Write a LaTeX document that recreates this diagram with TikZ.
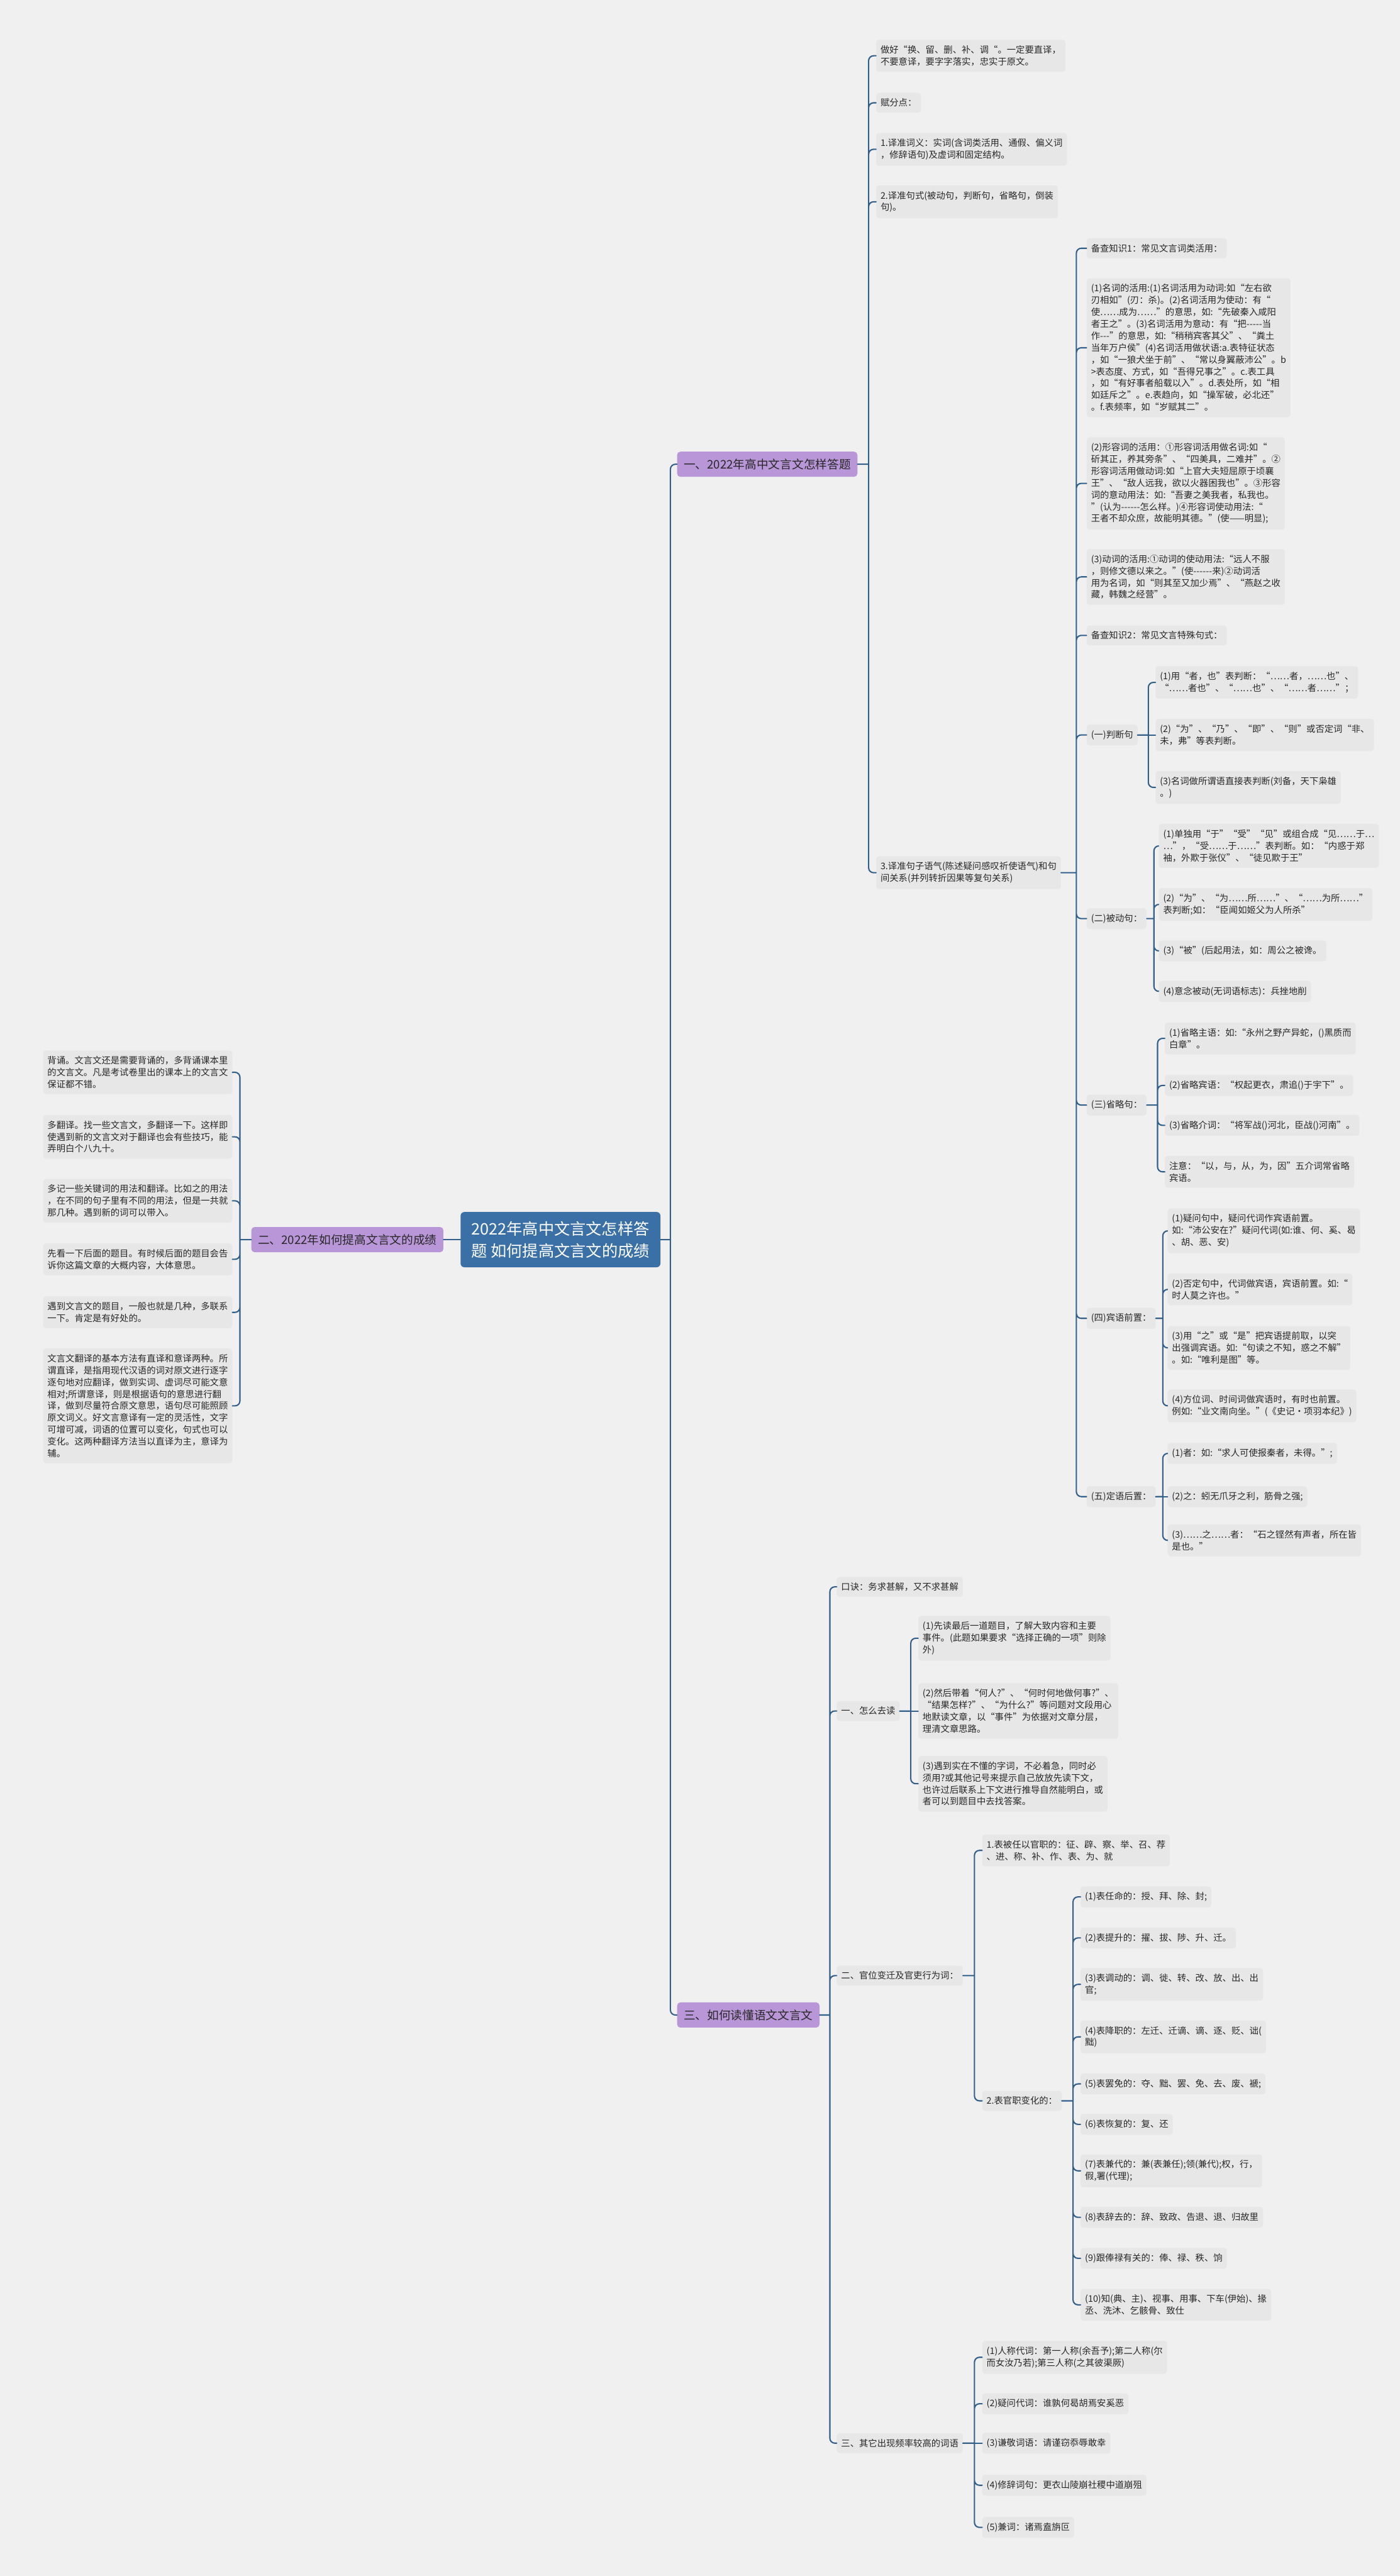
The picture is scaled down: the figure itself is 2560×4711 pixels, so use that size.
\documentclass[tikz,border=0pt]{standalone}
\usepackage{fontspec}
\setmainfont{Noto Sans CJK SC}
\usetikzlibrary{calc}
\definecolor{paper}{RGB}{240,240,240}
\definecolor{box}{RGB}{231,231,231}
\definecolor{wire}{RGB}{50,96,138}
\definecolor{deep}{RGB}{58,112,166}
\definecolor{lilac}{RGB}{184,150,216}
\definecolor{ink}{RGB}{40,40,40}

\begin{document}
\begin{tikzpicture}[x=1pt, y=-1pt,
	leaf/.style={fill=box, text=ink, rounded corners=5pt, anchor=west, align=left, inner xsep=8pt, inner ysep=10.5pt, font=\fontsize{16.5}{21.7}\selectfont},
	leafl/.style={leaf, anchor=east},
	sect/.style={fill=lilac, text=ink, rounded corners=6pt, anchor=west, inner xsep=12pt, inner ysep=13pt, font=\fontsize{21.5}{26}\selectfont},
	main/.style={fill=deep, text=white, rounded corners=7pt, align=left, inner xsep=20pt, inner ysep=17pt, font=\fontsize{29}{40}\selectfont},
	link/.style={draw=wire, line width=2.4pt, line cap=round, rounded corners=9pt,
		to path={(\tikztostart) -- ($(\tikztostart)!0.6!(\tikztostart -| \tikztotarget)$) ($(\tikztostart)!0.6!(\tikztostart -| \tikztotarget)$) |- (\tikztotarget)}},
	flat/.style={draw=wire, line width=2.4pt, line cap=round}]
	
	\fill[paper] (0,0) rectangle (2560,4711);
	\useasboundingbox (0,0) rectangle (2560,4711);
	
	\path
	(1025,2267) node[main] (R) {2022年高中文言文怎样答\\题 如何提高文言文的成绩}
	(1238,849) node[sect] (S1) {一、2022年高中文言文怎样答题}
	(811,2267) node[sect, anchor=east] (S2) {二、2022年如何提高文言文的成绩}
	(1238,3685) node[sect] (S3) {三、如何读懂语文文言文}
	;
	
	\path
	(1602,102) node[leaf] (A1) {做好“换、留、删、补、调“。一定要直译，\\不要意译，要字字落实，忠实于原文。}
	(1602,188) node[leaf] (A2) {赋分点：}
	(1602,273) node[leaf] (A3) {1.译准词义：实词(含词类活用、通假、偏义词\\，修辞语句)及虚词和固定结构。}
	(1602,369) node[leaf] (A4) {2.译准句式(被动句，判断句，省略句，倒装\\句)。}
	(1602,1596) node[leaf] (A5) {3.译准句子语气(陈述疑问感叹祈使语气)和句\\间关系(并列转折因果等复句关系)}
	;
	
	\path
	(1987,454) node[leaf] (B1) {备查知识1：常见文言词类活用：}
	(1987,636) node[leaf] (B2) {(1)名词的活用:(1)名词活用为动词:如“左右欲\\刃相如”(刃：杀)。(2)名词活用为使动：有“\\使……成为……”的意思，如:“先破秦入咸阳\\者王之”。(3)名词活用为意动：有“把-{}-{}-{}-{}-当\\作-{}-{}-”的意思，如:“稍稍宾客其父”、“粪土\\当年万户侯”(4)名词活用做状语:a.表特征状态\\，如“一狼犬坐于前”、“常以身翼蔽沛公”。b\\>表态度、方式，如“吾得兄事之”。c.表工具\\，如“有好事者船载以入”。d.表处所，如“相\\如廷斥之”。e.表趋向，如“操军破，必北还”\\。f.表频率，如“岁赋其二”。}
	(1987,884) node[leaf] (B3) {(2)形容词的活用：①形容词活用做名词:如“\\斫其正，养其旁条”、“四美具，二难并”。②\\形容词活用做动词:如“上官大夫短屈原于顷襄\\王”、“敌人远我，欲以火器困我也”。③形容\\词的意动用法：如:“吾妻之美我者，私我也。\\”(认为-{}-{}-{}-{}-{}-怎么样。)④形容词使动用法:“\\王者不却众庶，故能明其德。”(使——明显);}
	(1987,1055) node[leaf] (B4) {(3)动词的活用:①动词的使动用法:“远人不服\\，则修文德以来之。”(使-{}-{}-{}-{}-{}-来)②动词活\\用为名词，如“则其至又加少焉”、“燕赵之收\\藏，韩魏之经营”。}
	(1987,1162) node[leaf] (B5) {备查知识2：常见文言特殊句式：}
	(1987,1344) node[leaf] (B6) {(一)判断句}
	(1987,1680) node[leaf] (B7) {(二)被动句：}
	(1987,2021) node[leaf] (B8) {(三)省略句：}
	(1987,2411) node[leaf] (B9) {(四)宾语前置：}
	(1987,2737) node[leaf] (B10) {(五)定语后置：}
	;
	
	\path
	(2113,1248) node[leaf] (C1) {(1)用“者，也”表判断：“……者，……也”、\\“……者也”、“……也”、“……者……”；}
	(2113,1344) node[leaf] (C2) {(2)“为”、“乃”、“即”、“则”或否定词“非、\\未，弗”等表判断。}
	(2113,1440) node[leaf] (C3) {(3)名词做所谓语直接表判断(刘备，天下枭雄\\。)}
	(2119,1547) node[leaf] (D1) {(1)单独用“于”“受”“见”或组合成“见……于…\\…”，“受……于……”表判断。如：“内惑于郑\\袖，外欺于张仪”、“徒见欺于王”}
	(2119,1654) node[leaf] (D2) {(2)“为”、“为……所……”、“……为所……”\\表判断;如：“臣闻如姬父为人所杀”}
	(2119,1739) node[leaf] (D3) {(3)“被”(后起用法，如：周公之被谗。}
	(2119,1813) node[leaf] (D4) {(4)意念被动(无词语标志)：兵挫地削}
	(2130,1899) node[leaf] (E1) {(1)省略主语：如:“永州之野产异蛇，()黑质而\\白章”。}
	(2130,1985) node[leaf] (E2) {(2)省略宾语：“权起更衣，肃追()于宇下”。}
	(2130,2058) node[leaf] (E3) {(3)省略介词：“将军战()河北，臣战()河南”。}
	(2130,2143) node[leaf] (E4) {注意：“以，与，从，为，因”五介词常省略\\宾语。}
	(2135,2251) node[leaf] (F1) {(1)疑问句中，疑问代词作宾语前置。\\如:“沛公安在?”疑问代词(如:谁、何、奚、曷\\、胡、恶、安)}
	(2135,2358) node[leaf] (F2) {(2)否定句中，代词做宾语，宾语前置。如:“\\时人莫之许也。”}
	(2135,2465) node[leaf] (F3) {(3)用“之”或“是”把宾语提前取，以突\\出强调宾语。如:“句读之不知，惑之不解”\\。如:“唯利是图”等。}
	(2135,2571) node[leaf] (F4) {(4)方位词、时间词做宾语时，有时也前置。\\例如:“业文南向坐。”(《史记·项羽本纪》)}
	(2135,2658) node[leaf] (G1) {(1)者：如:“求人可使报秦者，未得。”;}
	(2135,2737) node[leaf] (G2) {(2)之：蚓无爪牙之利，筋骨之强;}
	(2135,2817) node[leaf] (G3) {(3)……之……者：“石之铿然有声者，所在皆\\是也。”}
	;
	
	\path
	(425,1961) node[leafl] (H1) {背诵。文言文还是需要背诵的，多背诵课本里\\的文言文。凡是考试卷里出的课本上的文言文\\保证都不错。}
	(425,2079) node[leafl] (H2) {多翻译。找一些文言文，多翻译一下。这样即\\使遇到新的文言文对于翻译也会有些技巧，能\\弄明白个八九十。}
	(425,2196) node[leafl] (H3) {多记一些关键词的用法和翻译。比如之的用法\\，在不同的句子里有不同的用法，但是一共就\\那几种。遇到新的词可以带入。}
	(425,2303) node[leafl] (H4) {先看一下后面的题目。有时候后面的题目会告\\诉你这篇文章的大概内容，大体意思。}
	(425,2400) node[leafl] (H5) {遇到文言文的题目，一般也就是几种，多联系\\一下。肯定是有好处的。}
	(425,2571) node[leafl] (H6) {文言文翻译的基本方法有直译和意译两种。所\\谓直译，是指用现代汉语的词对原文进行逐字\\逐句地对应翻译，做到实词、虚词尽可能文意\\相对;所谓意译，则是根据语句的意思进行翻\\译，做到尽量符合原文意思，语句尽可能照顾\\原文词义。好文言意译有一定的灵活性，文字\\可增可减，词语的位置可以变化，句式也可以\\变化。这两种翻译方法当以直译为主，意译为\\辅。}
	;
	
	\path
	(1530,2902) node[leaf] (K1) {口诀：务求甚解，又不求甚解}
	(1530,3129) node[leaf] (K2) {一、怎么去读}
	(1530,3613) node[leaf] (K3) {二、官位变迁及官吏行为词：}
	(1530,4468) node[leaf] (K4) {三、其它出现频率较高的词语}
	(1679,2996) node[leaf] (L1) {(1)先读最后一道题目，了解大致内容和主要\\事件。(此题如果要求“选择正确的一项”则除\\外)}
	(1679,3129) node[leaf] (L2) {(2)然后带着“何人?”、“何时何地做何事?”、\\“结果怎样?”、“为什么?”等问题对文段用心\\地默读文章，以“事件”为依据对文章分层，\\理清文章思路。}
	(1679,3262) node[leaf] (L3) {(3)遇到实在不懂的字词，不必着急，同时必\\须用?或其他记号来提示自己放放先读下文，\\也许过后联系上下文进行推导自然能明白，或\\者可以到题目中去找答案。}
	(1796,3384) node[leaf] (M1) {1.表被任以官职的：征、辟、察、举、召、荐\\、进、称、补、作、表、为、就}
	(1796,3842) node[leaf] (M2) {2.表官职变化的：}
	(1976,3469) node[leaf] (N1) {(1)表任命的：授、拜、除、封;}
	(1976,3544) node[leaf] (N2) {(2)表提升的：擢、拔、陟、升、迁。}
	(1976,3629) node[leaf] (N3) {(3)表调动的：调、徙、转、改、放、出、出\\官;}
	(1976,3725) node[leaf] (N4) {(4)表降职的：左迁、迁谪、谪、逐、贬、诎(\\黜)}
	(1976,3811) node[leaf] (N5) {(5)表罢免的：夺、黜、罢、免、去、废、褫;}
	(1976,3885) node[leaf] (N6) {(6)表恢复的：复、还}
	(1976,3970) node[leaf] (N7) {(7)表兼代的：兼(表兼任);领(兼代);权，行，\\假,署(代理);}
	(1976,4055) node[leaf] (N8) {(8)表辞去的：辞、致政、告退、退、归故里}
	(1976,4130) node[leaf] (N9) {(9)跟俸禄有关的：俸、禄、秩、饷}
	(1976,4215) node[leaf] (N10) {(10)知(典、主)、视事、用事、下车(伊始)、掾\\丞、洗沐、乞骸骨、致仕}
	(1796,4311) node[leaf] (O1) {(1)人称代词：第一人称(余吾予);第二人称(尔\\而女汝乃若);第三人称(之其彼渠厥)}
	(1796,4396) node[leaf] (O2) {(2)疑问代词：谁孰何曷胡焉安奚恶}
	(1796,4468) node[leaf] (O3) {(3)谦敬词语：请谨窃忝辱敢幸}
	(1796,4545) node[leaf] (O4) {(4)修辞词句：更衣山陵崩社稷中道崩殂}
	(1796,4622) node[leaf] (O5) {(5)兼词：诸焉盍旃叵}
	;
	
	\draw[flat] (R.west) -- (S2.east);
	\draw[link] (R.east) to (S1.west) (R.east) to (S3.west);
	
	\draw[link] (S1.east) to (A1.west) (S1.east) to (A2.west) (S1.east) to (A3.west) (S1.east) to (A4.west) (S1.east) to (A5.west);
	\draw[link] (A5.east) to (B1.west) (A5.east) to (B2.west) (A5.east) to (B3.west) (A5.east) to (B4.west) (A5.east) to (B5.west)
	(A5.east) to (B6.west) (A5.east) to (B7.west) (A5.east) to (B8.west) (A5.east) to (B9.west) (A5.east) to (B10.west);
	\draw[link] (B6.east) to (C1.west) (B6.east) to (C3.west);
	\draw[flat] (B6.east) -- (C2.west);
	\draw[link] (B7.east) to (D1.west) (B7.east) to (D2.west) (B7.east) to (D3.west) (B7.east) to (D4.west);
	\draw[link] (B8.east) to (E1.west) (B8.east) to (E2.west) (B8.east) to (E3.west) (B8.east) to (E4.west);
	\draw[link] (B9.east) to (F1.west) (B9.east) to (F2.west) (B9.east) to (F3.west) (B9.east) to (F4.west);
	\draw[link] (B10.east) to (G1.west) (B10.east) to (G3.west);
	\draw[flat] (B10.east) -- (G2.west);
	
	\draw[link] (S2.west) to (H1.east) (S2.west) to (H2.east) (S2.west) to (H3.east) (S2.west) to (H4.east) (S2.west) to (H5.east) (S2.west) to (H6.east);
	
	\draw[link] (S3.east) to (K1.west) (S3.east) to (K2.west) (S3.east) to (K3.west) (S3.east) to (K4.west);
	\draw[link] (K2.east) to (L1.west) (K2.east) to (L3.west);
	\draw[flat] (K2.east) -- (L2.west);
	\draw[link] (K3.east) to (M1.west) (K3.east) to (M2.west);
	\draw[link] (M2.east) to (N1.west) (M2.east) to (N2.west) (M2.east) to (N3.west) (M2.east) to (N4.west) (M2.east) to (N5.west)
	(M2.east) to (N6.west) (M2.east) to (N7.west) (M2.east) to (N8.west) (M2.east) to (N9.west) (M2.east) to (N10.west);
	\draw[link] (K4.east) to (O1.west) (K4.east) to (O2.west) (K4.east) to (O4.west) (K4.east) to (O5.west);
	\draw[flat] (K4.east) -- (O3.west);
\end{tikzpicture}
\end{document}
